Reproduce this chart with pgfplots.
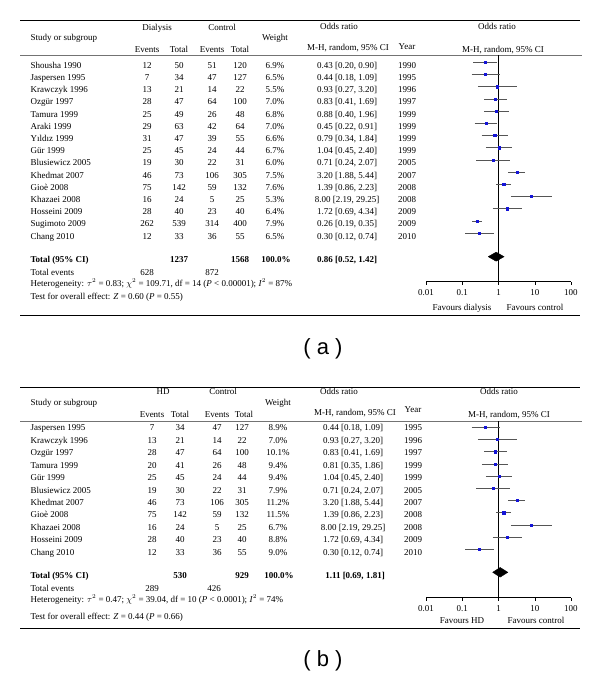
\documentclass[border=0pt]{standalone}
\usepackage{fontspec}
\setmainfont{Liberation Serif}
\newfontfamily\labfont{Liberation Sans}
\usepackage{pgfplots}
\pgfplotsset{compat=1.18}
\usepackage{pgfplotstable}
\definecolor{cicol}{RGB}{85,85,85}
\definecolor{ptcol}{RGB}{20,20,215}
\newcommand\f{\fontsize{9}{10.5}\selectfont}

% panel (a): row position (negative row index), OR, lower, upper
\pgfplotstableread{
y or lo hi
-1 0.43 0.20 0.90
-2 0.44 0.18 1.09
-3 0.93 0.27 3.20
-4 0.83 0.41 1.69
-5 0.88 0.40 1.96
-6 0.45 0.22 0.91
-7 0.79 0.34 1.84
-8 1.04 0.45 2.40
-9 0.71 0.24 2.07
-10 3.20 1.88 5.44
-11 1.39 0.86 2.23
-12 8.00 2.19 29.25
-13 1.72 0.69 4.34
-14 0.26 0.19 0.35
-15 0.30 0.12 0.74
}\ptsA
\pgfplotstableread{
x y
0.20 -1
0.90 -1
nan nan
0.18 -2
1.09 -2
nan nan
0.27 -3
3.20 -3
nan nan
0.41 -4
1.69 -4
nan nan
0.40 -5
1.96 -5
nan nan
0.22 -6
0.91 -6
nan nan
0.34 -7
1.84 -7
nan nan
0.45 -8
2.40 -8
nan nan
0.24 -9
2.07 -9
nan nan
1.88 -10
5.44 -10
nan nan
0.86 -11
2.23 -11
nan nan
2.19 -12
29.25 -12
nan nan
0.69 -13
4.34 -13
nan nan
0.19 -14
0.35 -14
nan nan
0.12 -15
0.74 -15
}\ciA

% panel (b)
\pgfplotstableread{
y or lo hi
-1 0.44 0.18 1.09
-2 0.93 0.27 3.20
-3 0.83 0.41 1.69
-4 0.81 0.35 1.86
-5 1.04 0.45 2.40
-6 0.71 0.24 2.07
-7 3.20 1.88 5.44
-8 1.39 0.86 2.23
-9 8.00 2.19 29.25
-10 1.72 0.69 4.34
-11 0.30 0.12 0.74
}\ptsB
\pgfplotstableread{
x y
0.18 -1
1.09 -1
nan nan
0.27 -2
3.20 -2
nan nan
0.41 -3
1.69 -3
nan nan
0.35 -4
1.86 -4
nan nan
0.45 -5
2.40 -5
nan nan
0.24 -6
2.07 -6
nan nan
1.88 -7
5.44 -7
nan nan
0.86 -8
2.23 -8
nan nan
2.19 -9
29.25 -9
nan nan
0.69 -10
4.34 -10
nan nan
0.12 -11
0.74 -11
}\ciB

\begin{document}
\begin{tikzpicture}[font=\f]
\begin{scope}[x=1pt,y=-1pt]
\path (0,0) rectangle (600,679);
% ---------------- panel (a) text ----------------
\draw[line width=0.8pt] (20,20) -- (580,20);
\draw[line width=0.5pt, black!55] (20,55) -- (582,55);
\draw[line width=0.9pt] (20,315) -- (580,315);
\node[anchor=mid] at (157,28) {Dialysis};
\node[anchor=mid] at (222,28) {Control};
\node[anchor=mid west] at (27,38) {Study or subgroup};
\node[anchor=mid] at (275,38) {Weight};
\node[anchor=mid] at (147,50) {Events};
\node[anchor=mid] at (179,50) {Total};
\node[anchor=mid] at (212,50) {Events};
\node[anchor=mid] at (240,50) {Total};
\node[anchor=mid] at (339,27) {Odds ratio};
\node[anchor=mid] at (348,48) {M-H, random, 95\% CI};
\node[anchor=mid] at (407,47) {Year};
\node[anchor=mid] at (497,27) {Odds ratio};
\node[anchor=mid] at (503,50) {M-H, random, 95\% CI};
\foreach \rr/\nm/\ee/\et/\ce/\ct/\w/\orr/\cl/\cu/\yr in {
1/Shousha 1990/12/50/51/120/6.9/0.43/0.20/0.90/1990,
2/Jaspersen 1995/7/34/47/127/6.5/0.44/0.18/1.09/1995,
3/Krawczyk 1996/13/21/14/22/5.5/0.93/0.27/3.20/1996,
4/Ozgür 1997/28/47/64/100/7.0/0.83/0.41/1.69/1997,
5/Tamura 1999/25/49/26/48/6.8/0.88/0.40/1.96/1999,
6/Araki 1999/29/63/42/64/7.0/0.45/0.22/0.91/1999,
7/Yıldız 1999/31/47/39/55/6.6/0.79/0.34/1.84/1999,
8/Gür 1999/25/45/24/44/6.7/1.04/0.45/2.40/1999,
9/Blusiewicz 2005/19/30/22/31/6.0/0.71/0.24/2.07/2005,
10/Khedmat 2007/46/73/106/305/7.5/3.20/1.88/5.44/2007,
11/Gioè 2008/75/142/59/132/7.6/1.39/0.86/2.23/2008,
12/Khazaei 2008/16/24/5/25/5.3/8.00/2.19/29.25/2008,
13/Hosseini 2009/28/40/23/40/6.4/1.72/0.69/4.34/2009,
14/Sugimoto 2009/262/539/314/400/7.9/0.26/0.19/0.35/2009,
15/Chang 2010/12/33/36/55/6.5/0.30/0.12/0.74/2010}{
  \pgfmathsetmacro\yy{66+12.2*(\rr-1)}
  \node[anchor=mid west] at (27,\yy) {\nm};
  \node[anchor=mid] at (147,\yy) {\ee};
  \node[anchor=mid] at (179,\yy) {\et};
  \node[anchor=mid] at (212,\yy) {\ce};
  \node[anchor=mid] at (240,\yy) {\ct};
  \node[anchor=mid] at (275,\yy) {\w\%};
  \node[anchor=mid] at (347,\yy) {\orr\ [\cl, \cu]};
  \node[anchor=mid] at (407,\yy) {\yr};
}
\node[anchor=mid west] at (27,260) {\bfseries Total (95\% CI)};
\node[anchor=mid] at (179,260) {\bfseries 1237};
\node[anchor=mid] at (240,260) {\bfseries 1568};
\node[anchor=mid] at (276,260) {\bfseries 100.0\%};
\node[anchor=mid] at (347,260) {\bfseries 0.86 [0.52, 1.42]};
\node[anchor=mid west] at (27,273) {Total events};
\node[anchor=mid] at (147,273) {628};
\node[anchor=mid] at (212,273) {872};
\node[anchor=mid west] at (27,284) {Heterogeneity: $\tau^2$ = 0.83; $\chi^2$ = 109.71, df = 14 (\textit{P} < 0.00001); \textit{I}$^2$ = 87\%};
\node[anchor=mid west] at (27,297) {Test for overall effect: \textit{Z} = 0.60 (\textit{P} = 0.55)};
\node[anchor=mid] at (462,308) {Favours dialysis};
\node[anchor=mid] at (535,308) {Favours control};
\node[anchor=mid, font=\labfont\fontsize{22}{24}\selectfont] at (323,352) {( a )};
% ---------------- panel (b) text ----------------
\draw[line width=0.8pt] (20,387) -- (580,387);
\draw[line width=0.5pt, black!55] (20,421) -- (582,421);
\draw[line width=0.9pt] (20,628) -- (580,628);
\node[anchor=mid] at (163,392) {HD};
\node[anchor=mid] at (223,392) {Control};
\node[anchor=mid west] at (27,403) {Study or subgroup};
\node[anchor=mid] at (278,403) {Weight};
\node[anchor=mid] at (152,415) {Events};
\node[anchor=mid] at (180,415) {Total};
\node[anchor=mid] at (217,415) {Events};
\node[anchor=mid] at (244,415) {Total};
\node[anchor=mid] at (339,392) {Odds ratio};
\node[anchor=mid] at (355,413) {M-H, random, 95\% CI};
\node[anchor=mid] at (413,410) {Year};
\node[anchor=mid] at (499,392) {Odds ratio};
\node[anchor=mid] at (509,415) {M-H, random, 95\% CI};
\foreach \rr/\nm/\ee/\et/\ce/\ct/\w/\orr/\cl/\cu/\yr in {
1/Jaspersen 1995/7/34/47/127/8.9/0.44/0.18/1.09/1995,
2/Krawczyk 1996/13/21/14/22/7.0/0.93/0.27/3.20/1996,
3/Ozgür 1997/28/47/64/100/10.1/0.83/0.41/1.69/1997,
4/Tamura 1999/20/41/26/48/9.4/0.81/0.35/1.86/1999,
5/Gür 1999/25/45/24/44/9.4/1.04/0.45/2.40/1999,
6/Blusiewicz 2005/19/30/22/31/7.9/0.71/0.24/2.07/2005,
7/Khedmat 2007/46/73/106/305/11.2/3.20/1.88/5.44/2007,
8/Gioè 2008/75/142/59/132/11.5/1.39/0.86/2.23/2008,
9/Khazaei 2008/16/24/5/25/6.7/8.00/2.19/29.25/2008,
10/Hosseini 2009/28/40/23/40/8.8/1.72/0.69/4.34/2009,
11/Chang 2010/12/33/36/55/9.0/0.30/0.12/0.74/2010}{
  \pgfmathsetmacro\yy{428.5+12.45*(\rr-1)}
  \node[anchor=mid west] at (27,\yy) {\nm};
  \node[anchor=mid] at (152,\yy) {\ee};
  \node[anchor=mid] at (180,\yy) {\et};
  \node[anchor=mid] at (217,\yy) {\ce};
  \node[anchor=mid] at (242,\yy) {\ct};
  \node[anchor=mid] at (278,\yy) {\w\%};
  \node[anchor=mid] at (353,\yy) {\orr\ [\cl, \cu]};
  \node[anchor=mid] at (413,\yy) {\yr};
}
\node[anchor=mid west] at (27,576) {\bfseries Total (95\% CI)};
\node[anchor=mid] at (180,576) {\bfseries 530};
\node[anchor=mid] at (242,576) {\bfseries 929};
\node[anchor=mid] at (279,576) {\bfseries 100.0\%};
\node[anchor=mid] at (355,576) {\bfseries 1.11 [0.69, 1.81]};
\node[anchor=mid west] at (27,589) {Total events};
\node[anchor=mid] at (152,589) {289};
\node[anchor=mid] at (214,589) {426};
\node[anchor=mid west] at (27,600) {Heterogeneity: $\tau^2$ = 0.47; $\chi^2$ = 39.04, df = 10 (\textit{P} < 0.0001); \textit{I}$^2$ = 74\%};
\node[anchor=mid west] at (27,617) {Test for overall effect: \textit{Z} = 0.44 (\textit{P} = 0.66)};
\node[anchor=mid] at (462,621) {Favours HD};
\node[anchor=mid] at (536,621) {Favours control};
\node[anchor=mid, font=\labfont\fontsize{22}{24}\selectfont] at (323,664) {( b )};
\end{scope}

% ---------------- forest plot (a) ----------------
\begin{axis}[at={(426pt,-281.7pt)}, anchor=south west,
  width=145pt, height=226.7pt, scale only axis, clip=false,
  xmode=log, xmin=0.01, xmax=100, ymin=-18.98, ymax=-0.402,
  axis x line=bottom, axis y line=none,
  axis line style={-, black, line width=0.6pt},
  xtick={0.01,0.1,1,10,100}, xticklabels={0.01,0.1,1,10,100},
  xminorticks=false, tick align=outside, major tick length=3pt,
  tick style={black, line width=0.5pt},
  xticklabel style={font=\f, inner sep=2pt, yshift=-2.5pt},
  unbounded coords=jump]
\addplot[black, line width=0.5pt] coordinates {(1,-0.402) (1,-18.98)};
\addplot[cicol, line width=0.7pt] table[x=x, y=y] {\ciA};
\addplot[only marks, mark=square*, mark size=1.1pt, ptcol] table[x=or, y=y] {\ptsA};
\addplot[fill=black, draw=black] coordinates {(0.52,-16.93) (0.86,-16.56) (1.42,-16.93) (0.86,-17.30) (0.52,-16.93)};
\end{axis}

% ---------------- forest plot (b) ----------------
\begin{axis}[at={(426pt,-597.7pt)}, anchor=south west,
  width=145pt, height=176.7pt, scale only axis, clip=false,
  xmode=log, xmin=0.01, xmax=100, ymin=-14.967, ymax=-0.484,
  axis x line=bottom, axis y line=none,
  axis line style={-, black, line width=0.6pt},
  xtick={0.01,0.1,1,10,100}, xticklabels={0.01,0.1,1,10,100},
  xminorticks=false, tick align=outside, major tick length=3pt,
  tick style={black, line width=0.5pt},
  xticklabel style={font=\f, inner sep=2pt, yshift=-2.5pt},
  unbounded coords=jump]
\addplot[black, line width=0.5pt] coordinates {(1,-0.484) (1,-14.967)};
\addplot[cicol, line width=0.7pt] table[x=x, y=y] {\ciB};
\addplot[only marks, mark=square*, mark size=1.1pt, ptcol] table[x=or, y=y] {\ptsB};
\addplot[fill=black, draw=black] coordinates {(0.69,-12.885) (1.11,-12.49) (1.81,-12.885) (1.11,-13.28) (0.69,-12.885)};
\end{axis}
\end{tikzpicture}
\end{document}
